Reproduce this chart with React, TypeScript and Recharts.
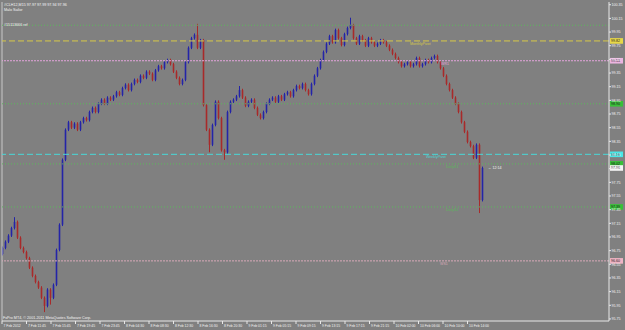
import React from "react";
import { ComposedChart, Bar, XAxis, YAxis, ReferenceLine } from "recharts";

// M15 #CLH12, one candle per 30 min, closes
const closes = [
  96.79, 96.88, 96.97, 97.08, 97.17, 96.94, 96.79, 96.73, 96.64, 96.5,
  96.38, 96.29, 96.21, 96.06, 95.94, 96.18, 96.06, 96.25, 96.76, 97.13,
  98.08, 98.52, 98.63, 98.55, 98.61, 98.52, 98.63, 98.69, 98.66, 98.78,
  98.84, 98.78, 98.9, 98.96, 98.9, 98.99, 98.96, 99.01, 99.07, 99.03,
  99.13, 99.18, 99.1, 99.19, 99.25, 99.22, 99.31, 99.28, 99.37, 99.34,
  99.25, 99.39, 99.45, 99.42, 99.51, 99.54, 99.48, 99.37, 99.28, 99.19,
  99.25, 99.51, 99.72, 99.86, 99.91, 99.72, 99.83, 98.88, 98.52, 98.3,
  98.59, 98.93, 98.69, 98.22, 98.19, 98.78, 98.93, 98.96, 99.01, 99.1,
  98.99, 98.87, 98.93, 98.96, 98.84, 98.74, 98.69, 98.78, 98.9, 98.96,
  98.99, 98.93, 99.01, 98.96, 99.04, 99.07, 99.01, 99.1, 99.16, 99.13,
  99.19, 99.1, 99.04, 99.19, 99.31, 99.42, 99.54, 99.66, 99.78, 99.89,
  99.8, 99.98, 99.86, 99.76, 99.92, 100.01, 100.05, 99.86, 99.78, 99.89,
  99.83, 99.75, 99.86, 99.8, 99.75, 99.78, 99.83, 99.8, 99.75, 99.69,
  99.63, 99.57, 99.51, 99.45, 99.48, 99.51, 99.45, 99.48, 99.57, 99.45,
  99.48, 99.54, 99.51, 99.57, 99.6, 99.51, 99.42, 99.31, 99.19, 99.1,
  98.99, 98.9, 98.78, 98.63, 98.49, 98.34, 98.28, 98.11, 98.3, 97.49,
  97.96,
];
const firstOpen = 96.7;
// long wicks seen in the picture (candle index -> price)
const highSpikes: Record<number, number> = { 4: 97.24, 65: 100.07, 79: 99.16, 116: 100.16 };
const lowSpikes: Record<number, number> = { 14: 95.85, 16: 95.96, 69: 98.19, 74: 98.08, 159: 97.3 };
const WICK = 0.02;

const timeLabels = [
  "7 Feb 2012", "7 Feb 11:45", "7 Feb 15:45", "7 Feb 19:45", "7 Feb 23:45",
  "8 Feb 04:30", "8 Feb 08:30", "8 Feb 12:30", "8 Feb 16:30", "8 Feb 20:30",
  "9 Feb 01:15", "9 Feb 05:15", "9 Feb 09:15", "9 Feb 13:15", "9 Feb 17:15",
  "9 Feb 21:15", "10 Feb 02:00", "10 Feb 06:00", "10 Feb 10:00", "10 Feb 14:00",
];
const LABEL_STEP = 8.1667; // candles between time labels

const priceTicks = [
  100.35, 100.15, 99.95, 99.75, 99.55, 99.35, 99.15, 98.95, 98.75, 98.55, 98.35, 98.15,
  97.95, 97.75, 97.55, 97.35, 97.15, 96.95, 96.75, 96.55, 96.35, 96.15, 95.95, 95.75,
];

// pivot levels: value, line colour, dash, label text, axis box colour
const levels = [
  { y: 100.05, color: "#5cb85c", dash: "1 2", text: "", box: "" },
  { y: 99.82, color: "#d8c848", dash: "6 3", text: "MonthlyPivot", box: "#e8d848" },
  { y: 99.53, color: "#e4a4dc", dash: "2 1", text: "WR1", box: "#ecb4e0" },
  { y: 98.9, color: "#5cb85c", dash: "1 2", text: "", box: "#38c038" },
  { y: 98.16, color: "#48d8d8", dash: "6 3", text: "WeeklyPivot", box: "#48e8e8" },
  { y: 98.02, color: "#5cb85c", dash: "1 2", text: "DailyS1", box: "#38c038" },
  { y: 97.39, color: "#5cb85c", dash: "1 2", text: "DailyS2", box: "#38c038" },
  { y: 96.6, color: "#d8a8b8", dash: "2 1", text: "WS1", box: "#f0b4c4" },
];
const bidPrice = 97.96;

const textX: Record<string, number> = {
  MonthlyPivot: 410, WR1: 441, WeeklyPivot: 426, DailyS1: 446, DailyS2: 446, WS1: 440,
};

const BULL = "#2424a8";
const BEAR = "#a82a2a";
const BG = "#808080";
const FONT = "'Liberation Sans', Arial, sans-serif";

const data = closes.map((c, i) => {
  const o = i === 0 ? firstOpen : closes[i - 1];
  const high = highSpikes[i] ?? Math.max(o, c) + WICK;
  const low = lowSpikes[i] ?? Math.min(o, c) - WICK;
  return { i, open: o, close: c, high, low, range: [low, high] };
});

const Candle = (props: any) => {
  const { x, y, width, height, payload } = props;
  if (!payload) return null;
  const { open, close, high, low } = payload;
  const top = Math.min(y, y + height);
  const h = Math.abs(height);
  const toPx = (v: number) => top + ((high - v) / (high - low || 1)) * h;
  const color = close >= open ? BULL : BEAR;
  const cx = x + width / 2;
  const bTop = toPx(Math.max(open, close));
  const bBot = toPx(Math.min(open, close));
  return (
    <g>
      <line x1={cx} x2={cx} y1={top} y2={top + h} stroke={color} strokeWidth={1} />
      <rect x={cx - 0.8} y={bTop} width={1.6} height={Math.max(1, bBot - bTop)} fill={color} />
    </g>
  );
};

const TimeTick = (props: any) => {
  const { x, y, payload } = props;
  const idx = Math.round(payload.value / LABEL_STEP);
  return (
    <g>
      <line x1={x} x2={x} y1={y} y2={y + 3} stroke="#e8e8e8" strokeWidth={1} />
      <text x={x + 1.5} y={y + 6.3} fontSize={3.4} fill="#f4f4f4" fontFamily={FONT}>
        {timeLabels[idx]}
      </text>
    </g>
  );
};

const levelLabel = (lv: { y: number; color: string; text: string; box: string }) => (props: any) => {
  const vb = props.viewBox;
  if (!vb) return null;
  const ly = vb.y;
  const axisX = vb.x + vb.width;
  return (
    <g>
      {lv.text && (
        <text x={textX[lv.text]} y={ly + 4} fontSize={3.6} fill={lv.color} fontFamily={FONT}>
          {lv.text}
        </text>
      )}
      {lv.box && (
        <g>
          <rect x={axisX + 1} y={ly - 2.8} width={13} height={5.6} fill={lv.box} />
          <text x={axisX + 2} y={ly + 1.4} fontSize={3.6} fill="#202020" fontFamily={FONT}>
            {lv.y.toFixed(2)}
          </text>
        </g>
      )}
    </g>
  );
};

const bidLabel = (props: any) => {
  const vb = props.viewBox;
  if (!vb) return null;
  const ly = vb.y;
  const axisX = vb.x + vb.width;
  return (
    <g>
      <text x={488} y={ly + 1.5} fontSize={3.6} fill="#f4f4f4" fontFamily={FONT}>
        {"\u2190 12:14"}
      </text>
      <rect x={axisX + 1} y={ly - 2.8} width={13} height={5.6} fill="#f4f4f4" />
      <text x={axisX + 2} y={ly + 1.4} fontSize={3.6} fill="#202020" fontFamily={FONT}>
        {bidPrice.toFixed(2)}
      </text>
    </g>
  );
};

export default function App() {
  const tickPositions = timeLabels.map((_, j) => j * LABEL_STEP);
  return (
    <div style={{ position: "absolute", left: 0, top: 0, width: 625, height: 330, background: BG }}>
      <ComposedChart
        width={625}
        height={330}
        data={data}
        margin={{ top: 2, right: 0, bottom: 0, left: 2 }}
      >
        <XAxis
          dataKey="i"
          type="number"
          domain={[0, 202.33]}
          ticks={tickPositions}
          tick={<TimeTick />}
          tickLine={false}
          tickSize={0}
          tickMargin={0}
          axisLine={{ stroke: "#e8e8e8" }}
          height={9}
          allowDataOverflow
          interval={0}
        />
        <YAxis
          orientation="right"
          domain={[95.72, 100.39]}
          ticks={priceTicks}
          allowDataOverflow
          interval={0}
          width={16}
          tickSize={2}
          tickMargin={0.5}
          tickFormatter={(v: number) => v.toFixed(2)}
          tick={{ fontSize: 3.6, fill: "#f4f4f4", fontFamily: FONT }}
          tickLine={{ stroke: "#e8e8e8" }}
          axisLine={{ stroke: "#e8e8e8" }}
        />
        <ReferenceLine x={0} stroke="#c8c8c8" strokeWidth={1} />
        {levels.map((lv) => (
          <ReferenceLine
            key={lv.y}
            y={lv.y}
            stroke={lv.color}
            strokeDasharray={lv.dash}
            strokeWidth={1}
            label={levelLabel(lv)}
          />
        ))}
        <ReferenceLine y={bidPrice} stroke="none" label={bidLabel} />
        <Bar dataKey="range" barSize={2} shape={<Candle />} isAnimationActive={false} />
      </ComposedChart>
      <svg
        width={625}
        height={330}
        style={{ position: "absolute", left: 0, top: 0, pointerEvents: "none" }}
      >
        <g fontFamily={FONT} fontSize={3.7} fill="#f4f4f4">
          <text x={4} y={6}>#CLH12,M15  97.97 97.99 97.94 97.96</text>
          <text x={4} y={10.5}>Malo Sailor</text>
          <text x={4} y={25.5}>#15113666 ref</text>
          <text x={3} y={319}>FxPro MT4, © 2001-2011 MetaQuotes Software Corp.</text>
        </g>
      </svg>
    </div>
  );
}
